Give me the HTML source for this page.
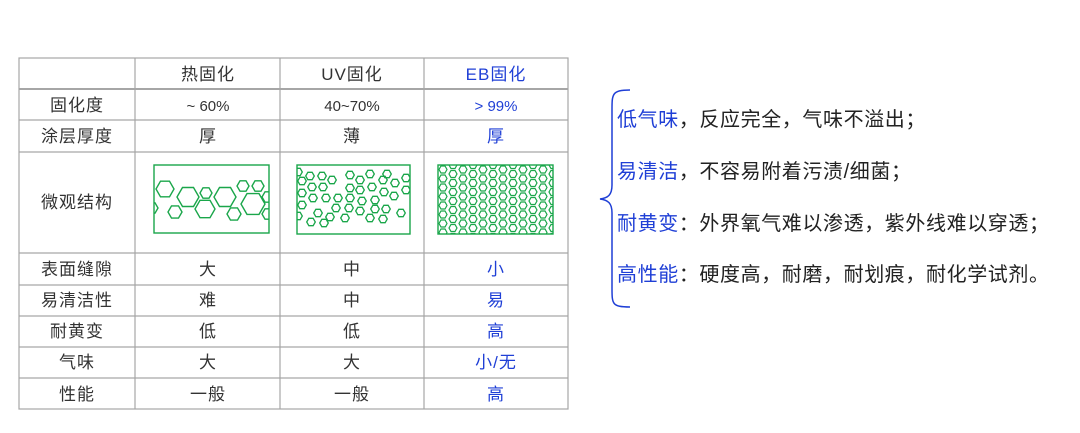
<!DOCTYPE html>
<html><head><meta charset="utf-8"><style>
html,body{margin:0;padding:0;background:#fff;}
svg{display:block;font-family:"Liberation Sans","Noto Sans CJK SC",sans-serif;}
</style></head><body>
<svg width="1080" height="433" viewBox="0 0 1080 433" xmlns="http://www.w3.org/2000/svg">
<defs>
<path id="sh" fill="none" stroke="#1aa64a" stroke-width="1.3" d="M-4.3,0 L-2.15,-3.7 L2.15,-3.7 L4.3,0 L2.15,3.7 L-2.15,3.7 Z"/>
<pattern id="hp" x="438" y="165" width="20" height="9" patternUnits="userSpaceOnUse">
<g fill="none" stroke="#1aa64a" stroke-width="1.2">
<polygon points="9,4.5 7,8 3,8 1,4.5 3,1 7,1"/>
<polygon points="19,0 17,3.5 13,3.5 11,0 13,-3.5 17,-3.5"/>
<polygon points="19,9 17,12.5 13,12.5 11,9 13,5.5 17,5.5"/>
</g></pattern>
<clipPath id="c1"><rect x="154" y="165" width="115" height="68"/></clipPath>
<clipPath id="c2"><rect x="297" y="165" width="113" height="69"/></clipPath>
</defs>
<g stroke="#a6a6a6" stroke-width="1.2" fill="none">
<rect x="19" y="58" width="549" height="351"/>
<line x1="135" y1="58" x2="135" y2="409"/><line x1="280" y1="58" x2="280" y2="409"/><line x1="424" y1="58" x2="424" y2="409"/>
<line x1="19" y1="89" x2="568" y2="89" stroke-width="2"/>
<line x1="19" y1="120" x2="568" y2="120"/><line x1="19" y1="152" x2="568" y2="152"/>
<line x1="19" y1="253" x2="568" y2="253"/><line x1="19" y1="285" x2="568" y2="285"/>
<line x1="19" y1="316" x2="568" y2="316"/><line x1="19" y1="347" x2="568" y2="347"/>
<line x1="19" y1="378" x2="568" y2="378"/>
</g>
<g font-size="17" fill="#333" text-anchor="middle" letter-spacing="1">
<text x="208" y="80">热固化</text><text x="352" y="80">UV固化</text><text x="496" y="80" fill="#1f3fd6">EB固化</text>
<text x="77" y="111">固化度</text><text x="208" y="111" font-size="15" letter-spacing="0">~ 60%</text><text x="352" y="111" font-size="15" letter-spacing="0">40~70%</text><text x="496" y="111" font-size="15" letter-spacing="0" fill="#1f3fd6">&gt; 99%</text>
<text x="77" y="142">涂层厚度</text><text x="208" y="142">厚</text><text x="352" y="142">薄</text><text x="496" y="142" fill="#1f3fd6">厚</text>
<text x="77" y="208">微观结构</text>
<text x="77" y="275">表面缝隙</text><text x="208" y="275">大</text><text x="352" y="275">中</text><text x="496" y="275" fill="#1f3fd6">小</text>
<text x="77" y="306">易清洁性</text><text x="208" y="306">难</text><text x="352" y="306">中</text><text x="496" y="306" fill="#1f3fd6">易</text>
<text x="77" y="337">耐黄变</text><text x="208" y="337">低</text><text x="352" y="337">低</text><text x="496" y="337" fill="#1f3fd6">高</text>
<text x="77" y="368">气味</text><text x="208" y="368">大</text><text x="352" y="368">大</text><text x="496" y="368" fill="#1f3fd6">小/无</text>
<text x="77" y="400">性能</text><text x="208" y="400">一般</text><text x="352" y="400">一般</text><text x="496" y="400" fill="#1f3fd6">高</text>
</g>
<g fill="none" stroke="#1aa64a" stroke-width="1.4">
<rect x="154" y="165" width="115" height="68"/>
<rect x="297" y="165" width="113" height="69"/>
<rect x="438" y="165" width="115" height="69" fill="url(#hp)"/>
</g>
<g clip-path="url(#c1)" fill="none" stroke="#1aa64a" stroke-width="1.4">
<polygon points="174,189 169.5,196.8 160.5,196.8 156,189 160.5,181.2 169.5,181.2"/>
<polygon points="199,197 193.5,206.5 182.5,206.5 177,197 182.5,187.5 193.5,187.5"/>
<polygon points="212,193 209,198.2 203,198.2 200,193 203,187.8 209,187.8"/>
<polygon points="215,209 210,217.7 200,217.7 195,209 200,200.3 210,200.3"/>
<polygon points="182,212 178.5,218.1 171.5,218.1 168,212 171.5,205.9 178.5,205.9"/>
<polygon points="236,197 230.5,206.5 219.5,206.5 214,197 219.5,187.5 230.5,187.5"/>
<polygon points="241,214 237.5,220.1 230.5,220.1 227,214 230.5,207.9 237.5,207.9"/>
<polygon points="249,186 246,191.2 240,191.2 237,186 240,180.8 246,180.8"/>
<polygon points="264,186 261,191.2 255,191.2 252,186 255,180.8 261,180.8"/>
<polygon points="265,204 259,214.4 247,214.4 241,204 247,193.6 259,193.6"/>
<polygon points="158,208 155,213.2 149,213.2 146,208 149,202.8 155,202.8"/>
<polygon points="274,214 271,219.2 265,219.2 262,214 265,208.8 271,208.8"/>
<polygon points="274,197 271,202.2 265,202.2 262,197 265,191.8 271,191.8"/>
</g>
<g clip-path="url(#c2)">
<use href="#sh" x="298" y="172"/><use href="#sh" x="310" y="176"/><use href="#sh" x="322" y="176"/><use href="#sh" x="332" y="180"/>
<use href="#sh" x="302" y="181"/><use href="#sh" x="312" y="187"/><use href="#sh" x="323" y="187"/><use href="#sh" x="302" y="193"/>
<use href="#sh" x="313" y="198"/><use href="#sh" x="326" y="198"/><use href="#sh" x="302" y="205"/><use href="#sh" x="338" y="198"/>
<use href="#sh" x="350" y="188"/><use href="#sh" x="350" y="175"/><use href="#sh" x="360" y="180"/><use href="#sh" x="370" y="174"/>
<use href="#sh" x="383" y="180"/><use href="#sh" x="387" y="174"/><use href="#sh" x="395" y="183"/><use href="#sh" x="406" y="178"/>
<use href="#sh" x="406" y="190"/><use href="#sh" x="360" y="190"/><use href="#sh" x="372" y="187"/><use href="#sh" x="384" y="192"/>
<use href="#sh" x="394" y="196"/><use href="#sh" x="350" y="198"/><use href="#sh" x="362" y="201"/><use href="#sh" x="375" y="200"/>
<use href="#sh" x="336" y="208"/><use href="#sh" x="349" y="208"/><use href="#sh" x="360" y="211"/><use href="#sh" x="375" y="209"/>
<use href="#sh" x="386" y="209"/><use href="#sh" x="401" y="213"/><use href="#sh" x="318" y="213"/><use href="#sh" x="330" y="217"/>
<use href="#sh" x="345" y="218"/><use href="#sh" x="370" y="218"/><use href="#sh" x="383" y="219"/><use href="#sh" x="311" y="222"/>
<use href="#sh" x="324" y="223"/><use href="#sh" x="298" y="216"/>
</g>
<path d="M630,90 C612,90 612,94 612,110 L612,185 C612,195 608,198 600,199 C608,200 612,203 612,213 L612,288 C612,304 612,307 630,307" fill="none" stroke="#1f3fd6" stroke-width="1.5"/>
<g font-size="20" fill="#222" letter-spacing="0.6">
<text x="617" y="126"><tspan fill="#1f3fd6">低气味</tspan>，反应完全，气味不溢出；</text>
<text x="617" y="178"><tspan fill="#1f3fd6">易清洁</tspan>，不容易附着污渍/细菌；</text>
<text x="617" y="230"><tspan fill="#1f3fd6">耐黄变</tspan>：外界氧气难以渗透，紫外线难以穿透；</text>
<text x="617" y="281"><tspan fill="#1f3fd6">高性能</tspan>：硬度高，耐磨，耐划痕，耐化学试剂。</text>
</g>
</svg>
</body></html>
